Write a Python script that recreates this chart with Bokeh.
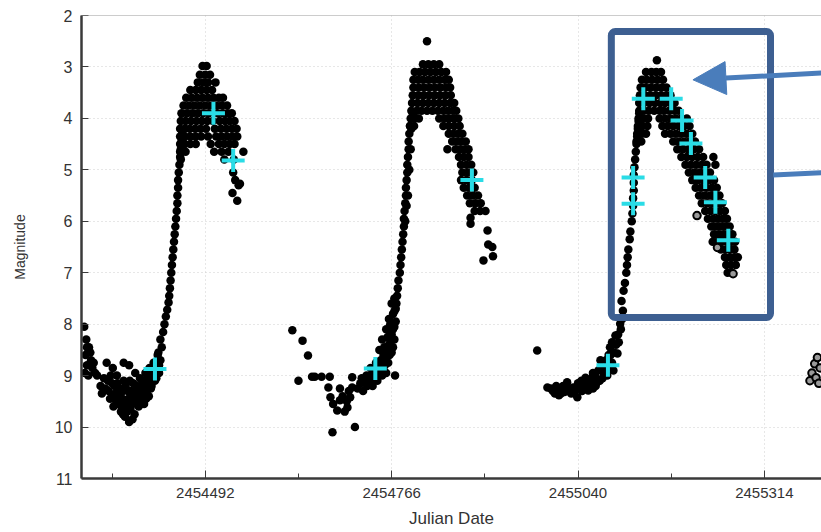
from bokeh.plotting import figure
from bokeh.models import (Range1d, FixedTicker, BasicTickFormatter, BoxAnnotation,
                          Arrow, NormalHead, Span)
from bokeh.embed import file_html
from bokeh.resources import INLINE

# ---------------- data (Julian Date offsets from JD0, magnitude) ----------------
JD0 = 2454000

x_major_ticks = [2454492, 2454766, 2455040, 2455314]
x_minor_ticks = [2454355, 2454629, 2454903, 2455177]
y_ticks = [2, 3, 4, 5, 6, 7, 8, 9, 10, 11]

cycle1_min = [(314, 8.05), (317, 8.30), (321, 8.45), (316, 8.60), (324, 8.70), (318, 8.80),
              (315, 8.95), (326, 8.85), (320, 9.00), (330, 8.95), (318, 8.45), (323, 8.55),
              (333, 9.00), (328, 8.75),
              (338, 9.20), (343, 9.05), (347, 8.75), (350, 9.30), (352, 9.45), (355, 9.15),
              (357, 9.60), (360, 9.35), (362, 9.00), (364, 9.55), (366, 9.25), (368, 9.70),
              (370, 9.45), (372, 9.10), (374, 9.80), (376, 9.55), (378, 9.30), (380, 8.80),
              (380, 9.90), (382, 9.65), (384, 9.40), (386, 9.15), (388, 9.75), (389, 8.95),
              (390, 9.50), (392, 9.30), (394, 9.60), (396, 9.05), (398, 9.40), (400, 9.20),
              (402, 9.55), (404, 8.95), (406, 9.30), (408, 9.10), (410, 8.85), (412, 9.25),
              (414, 9.00), (416, 8.75), (418, 9.10), (420, 8.90), (422, 8.60), (424, 8.80),
              (340, 9.35), (345, 9.25), (349, 9.10), (353, 9.00), (356, 9.40), (359, 9.20),
              (361, 9.50), (363, 9.15), (367, 9.40), (369, 9.60), (371, 9.30), (373, 9.50),
              (375, 9.20), (377, 9.70), (379, 9.45), (381, 9.10), (383, 9.30), (385, 9.55),
              (387, 9.35), (391, 9.20), (393, 9.45), (395, 9.25), (397, 9.55), (399, 9.10),
              (401, 9.35), (403, 9.10), (405, 9.45), (407, 9.20), (409, 9.40), (411, 9.05),
              (413, 9.20), (415, 8.95), (417, 9.05), (385, 9.85), (377, 9.65), (371, 9.75),
              (356, 8.85), (372, 8.75)]

cycle1_rise = [(420, 9.05), (424, 8.95), (426, 8.70), (423, 8.55), (428, 8.45), (426, 8.30),
               (430, 8.15), (432, 8.00), (434, 7.85), (436, 7.72), (438, 7.58), (439, 7.45),
               (440, 7.30), (441, 7.15), (442, 7.00), (443, 6.85), (444, 6.70), (445, 6.55),
               (446, 6.40), (447, 6.25), (448, 6.10), (449, 5.95), (450, 5.80), (451, 5.65),
               (451, 5.50), (452, 5.35), (452, 5.20), (453, 5.05), (454, 4.90), (455, 4.75),
               (456, 4.60), (457, 4.45), (458, 4.30)]

cycle1_peak = [(488, 2.98), (494, 2.98),
               (484, 3.15), (492, 3.15), (499, 3.15),
               (481, 3.3), (489, 3.3), (496, 3.3), (507, 3.3),
               (470, 3.45), (478, 3.45), (486, 3.45), (494, 3.45), (502, 3.45),
               (464, 3.6), (472, 3.6), (480, 3.6), (488, 3.6), (496, 3.6), (504, 3.6), (512, 3.6), (518, 3.6),
               (460, 3.75), (468, 3.75), (476, 3.75), (484, 3.75), (492, 3.75), (500, 3.75), (508, 3.75),
               (516, 3.75), (524, 3.75),
               (457, 3.9), (465, 3.9), (473, 3.9), (481, 3.9), (489, 3.9), (497, 3.9), (510, 3.9),
               (518, 3.9), (525, 3.9), (531, 3.9),
               (456, 4.05), (463, 4.05), (471, 4.05), (479, 4.05), (487, 4.05), (495, 4.05), (503, 4.05),
               (513, 4.05), (521, 4.05), (528, 4.05), (535, 4.05),
               (455, 4.2), (462, 4.2), (469, 4.2), (477, 4.2), (485, 4.2), (493, 4.2), (506, 4.2),
               (515, 4.2), (523, 4.2), (531, 4.2), (538, 4.2),
               (455, 4.35), (462, 4.35), (470, 4.35), (478, 4.35), (486, 4.35), (496, 4.35), (508, 4.35),
               (516, 4.35), (524, 4.35), (532, 4.35), (539, 4.35),
               (455, 4.5), (462, 4.5), (470, 4.5), (478, 4.5), (500, 4.5), (512, 4.5), (520, 4.5),
               (528, 4.5), (535, 4.5),
               (455, 4.65), (463, 4.65), (505, 4.65), (516, 4.65), (526, 4.65), (548, 4.65),
               (456, 4.8), (520, 4.8), (534, 4.8),
               (533, 5.05), (536, 5.20), (541, 5.30), (532, 5.45), (539, 5.60), (543, 5.27)]

cycle2_min = [(620, 8.12), (635, 8.32), (643, 8.61), (629, 9.10),
              (649, 9.02), (653, 9.02), (663, 9.02), (675, 9.02),
              (673, 9.23), (676, 9.42), (680, 9.55), (686, 9.68), (690, 9.48), (701, 9.62),
              (705, 9.42), (708, 9.23), (708, 9.03), (679, 10.10), (712, 10.00), (690, 9.25),
              (697, 9.70), (694, 9.40), (700, 9.50), (703, 9.30)]

cycle2_rise = [(716, 9.25), (720, 9.15), (727, 9.10), (734, 9.00), (741, 8.95), (748, 8.90),
               (724, 9.30), (730, 9.20), (738, 9.20), (745, 9.10), (752, 9.00), (758, 8.95),
               (771, 9.00), (735, 8.85), (743, 8.75), (750, 8.70), (757, 8.65), (763, 8.60),
               (748, 8.50), (755, 8.45), (762, 8.40), (768, 8.45), (752, 8.30), (760, 8.25),
               (766, 8.20), (758, 8.10), (764, 8.00), (770, 8.05), (762, 7.90), (768, 7.80),
               (772, 7.70), (766, 7.60), (770, 7.50),
               (722, 9.05), (729, 9.00), (736, 9.10), (744, 9.00), (751, 8.85), (756, 8.80),
               (761, 8.75), (746, 8.80), (754, 8.60), (760, 8.50), (766, 8.55), (764, 8.35),
               (770, 8.30), (768, 8.10), (772, 7.95), (770, 7.75), (773, 7.60), (756, 8.55),
               (744, 8.95), (739, 9.05),
               (774, 7.45), (775, 7.30), (776, 7.15), (778, 7.00), (779, 6.85), (780, 6.70),
               (781, 6.55), (782, 6.40), (783, 6.25), (784, 6.10), (784, 5.95), (785, 5.80),
               (786, 5.65), (787, 5.50), (787, 5.35), (788, 5.20), (789, 5.05), (789, 4.90),
               (790, 4.75), (791, 4.60), (791, 4.45), (792, 4.30), (793, 4.15), (790, 5.50),
               (792, 5.00), (794, 4.60), (795, 4.20), (797, 3.90), (786, 6.00), (788, 5.70)]

cycle2_peak = [(818, 2.50),
               (812, 2.95), (820, 2.95), (828, 2.95), (836, 2.95),
               (800, 3.1), (807, 3.1), (815, 3.1), (823, 3.1), (831, 3.1), (839, 3.1), (846, 3.1),
               (798, 3.25), (805, 3.25), (812, 3.25), (820, 3.25), (828, 3.25), (836, 3.25), (844, 3.25),
               (850, 3.25),
               (798, 3.4), (806, 3.4), (814, 3.4), (822, 3.4), (830, 3.4), (838, 3.4), (846, 3.4), (852, 3.4),
               (797, 3.55), (805, 3.55), (813, 3.55), (821, 3.55), (829, 3.55), (837, 3.55), (845, 3.55),
               (853, 3.55),
               (796, 3.7), (804, 3.7), (812, 3.7), (820, 3.7), (828, 3.7), (836, 3.7), (844, 3.7),
               (852, 3.7), (858, 3.7),
               (795, 3.85), (803, 3.85), (810, 3.85), (818, 3.85), (826, 3.85), (834, 3.85), (842, 3.85),
               (849, 3.85), (856, 3.85), (861, 3.85),
               (794, 4.0), (800, 4.0), (806, 4.0), (836, 4.0), (844, 4.0), (851, 4.0), (858, 4.0), (864, 4.0),
               (793, 4.15), (799, 4.15), (842, 4.15), (850, 4.15), (858, 4.15), (866, 4.15),
               (850, 4.3), (857, 4.3), (864, 4.3), (870, 4.3),
               (855, 4.45), (862, 4.45), (869, 4.45), (875, 4.45),
               (848, 4.6), (860, 4.6), (867, 4.6), (874, 4.6), (879, 4.6),
               (865, 4.75), (872, 4.75), (879, 4.75),
               (868, 4.9), (876, 4.9), (883, 4.9),
               (870, 5.05), (878, 5.05), (886, 5.05),
               (868, 5.2), (876, 5.2), (884, 5.2),
               (872, 5.35), (880, 5.35), (888, 5.35),
               (877, 5.5), (885, 5.5), (893, 5.5),
               (881, 5.65), (889, 5.65), (897, 5.65),
               (888, 5.8), (896, 5.8), (904, 5.8),
               (882, 5.93), (882, 6.05), (907, 6.18), (914, 6.50), (901, 6.76), (915, 6.68), (908, 6.45)]

cycle3_min = [(980, 8.51),
              (995, 9.23), (1003, 9.30), (1011, 9.29), (1018, 9.20), (1024, 9.13), (1024, 9.30),
              (1030, 9.35), (1033, 9.23), (1039, 9.42), (1040, 9.15), (1046, 9.30), (1051, 9.04),
              (1055, 9.29), (1058, 9.15), (1062, 8.95), (1062, 9.25), (1068, 9.13), (1070, 8.90),
              (1073, 8.70), (1076, 9.05), (1080, 8.85), (1083, 9.00), (1085, 8.60), (1087, 8.45),
              (1090, 8.75), (1092, 8.90), (1095, 8.22), (1098, 8.57), (1102, 7.99), (1106, 7.74),
              (1008, 9.20), (1015, 9.35), (1045, 9.10), (1090, 8.35),
              (1000, 9.25), (1006, 9.35), (1012, 9.38), (1020, 9.32), (1027, 9.25), (1035, 9.32),
              (1042, 9.25), (1048, 9.18), (1053, 9.15), (1060, 9.05), (1065, 9.00), (1066, 9.20),
              (1072, 9.10), (1075, 8.85), (1078, 8.95), (1081, 8.70), (1086, 8.80), (1088, 8.60),
              (1093, 8.55), (1096, 8.40), (1099, 8.20), (1100, 8.35), (1103, 8.10), (1105, 7.90)]

cycle3_rise = [(1104, 7.55), (1107, 7.35), (1109, 7.20), (1111, 7.00), (1112, 6.85), (1113, 6.70),
               (1114, 6.55), (1116, 6.35), (1117, 6.20), (1119, 6.00), (1120, 5.85), (1121, 5.70),
               (1121, 5.55), (1122, 5.40), (1122, 5.25), (1122, 5.10), (1123, 4.95), (1124, 4.80),
               (1125, 4.65), (1126, 4.50), (1127, 4.35), (1128, 4.20), (1129, 4.05), (1130, 3.90)]

cycle3_peak = [(1156, 2.87),
               (1140, 3.1), (1148, 3.1), (1155, 3.1), (1162, 3.1),
               (1134, 3.25), (1141, 3.25), (1149, 3.25), (1157, 3.25), (1165, 3.25),
               (1132, 3.4), (1139, 3.4), (1147, 3.4), (1155, 3.4), (1163, 3.4), (1170, 3.4),
               (1131, 3.55), (1138, 3.55), (1146, 3.55), (1154, 3.55), (1162, 3.55), (1170, 3.55), (1176, 3.55),
               (1130, 3.7), (1137, 3.7), (1145, 3.7), (1153, 3.7), (1161, 3.7), (1168, 3.7), (1176, 3.7),
               (1182, 3.7),
               (1130, 3.85), (1137, 3.85), (1144, 3.85), (1152, 3.85), (1160, 3.85), (1166, 3.85),
               (1174, 3.85), (1182, 3.85), (1188, 3.85),
               (1129, 4.0), (1136, 4.0), (1143, 4.0), (1160, 4.0), (1168, 4.0), (1176, 4.0), (1184, 4.0),
               (1192, 4.0), (1200, 4.0),
               (1128, 4.15), (1135, 4.15), (1142, 4.15), (1164, 4.15), (1172, 4.15), (1180, 4.15),
               (1188, 4.15), (1196, 4.15), (1204, 4.15),
               (1127, 4.3), (1134, 4.3), (1140, 4.3), (1168, 4.3), (1176, 4.3), (1184, 4.3), (1192, 4.3),
               (1200, 4.3), (1208, 4.3),
               (1126, 4.45), (1133, 4.45), (1180, 4.45), (1188, 4.45), (1196, 4.45), (1204, 4.45), (1212, 4.45),
               (1186, 4.6), (1194, 4.6), (1202, 4.6), (1210, 4.6), (1218, 4.6),
               (1192, 4.75), (1200, 4.75), (1208, 4.75), (1216, 4.75), (1224, 4.75), (1239, 4.75),
               (1198, 4.9), (1206, 4.9), (1214, 4.9), (1222, 4.9), (1229, 4.9), (1242, 4.9),
               (1203, 5.05), (1211, 5.05), (1219, 5.05), (1227, 5.05), (1234, 5.05),
               (1208, 5.2), (1216, 5.2), (1224, 5.2), (1232, 5.2), (1240, 5.2),
               (1213, 5.35), (1221, 5.35), (1229, 5.35), (1237, 5.35), (1244, 5.35),
               (1218, 5.5), (1226, 5.5), (1234, 5.5), (1241, 5.5), (1248, 5.5),
               (1222, 5.65), (1230, 5.65), (1238, 5.65), (1245, 5.65), (1252, 5.65),
               (1227, 5.8), (1235, 5.8), (1242, 5.8), (1249, 5.8), (1256, 5.8),
               (1231, 5.95), (1239, 5.95), (1246, 5.95), (1253, 5.95), (1259, 5.95),
               (1236, 6.1), (1243, 6.1), (1250, 6.1), (1257, 6.1), (1263, 6.1),
               (1240, 6.25), (1247, 6.25), (1254, 6.25), (1261, 6.25), (1267, 6.25),
               (1238, 6.4), (1245, 6.4), (1252, 6.4), (1259, 6.4), (1266, 6.4), (1271, 6.4),
               (1250, 6.55), (1257, 6.55), (1264, 6.55), (1270, 6.55),
               (1256, 6.7), (1263, 6.7), (1270, 6.7), (1275, 6.7),
               (1258, 6.85), (1265, 6.85), (1272, 6.85),
               (1260, 7.0), (1266, 7.0)]

hollow_points = [(1215, 5.89), (1245, 6.51), (1268, 7.02),
                 (1381, 9.10), (1384, 8.95), (1388, 8.77), (1392, 8.65), (1390, 9.04),
                 (1396, 8.85), (1394, 9.15)]

cyan_points = [(418, 8.87), (504, 3.90), (533, 4.82), (742, 8.86), (884, 5.20),
               (1084, 8.80), (1121, 5.15), (1121, 5.66), (1136, 3.62), (1177, 3.62),
               (1193, 4.04), (1206, 4.49), (1227, 5.15), (1242, 5.63), (1261, 6.37)]

# ---------------- figure ----------------
p = figure(width=821, height=532, output_backend="svg", toolbar_location=None,
           x_range=Range1d(2454310, 2455398), y_range=Range1d(11, 2),
           min_border_left=81, min_border_right=0, min_border_top=15, min_border_bottom=54)
p.outline_line_color = None
p.background_fill_color = "white"
p.border_fill_color = "white"

GRID = "#cfcfcf"
p.xgrid.grid_line_color = GRID
p.xgrid.grid_line_dash = "1 3"
p.ygrid.grid_line_color = GRID
p.ygrid.grid_line_dash = "1 3"

# x axis
xa = p.xaxis[0]
xa.ticker = FixedTicker(ticks=x_major_ticks, minor_ticks=x_minor_ticks)
xa.formatter = BasicTickFormatter(use_scientific=False)
xa.axis_label = "Julian Date"
xa.axis_line_color = "#3a3a3a"
xa.axis_line_width = 2.5
xa.major_tick_in = 8
xa.major_tick_out = 0
xa.minor_tick_in = 5
xa.minor_tick_out = 0
xa.major_tick_line_color = "#3a3a3a"
xa.minor_tick_line_color = "#3a3a3a"
xa.major_label_text_font = "Liberation Sans"
xa.major_label_text_font_size = "15px"
xa.major_label_text_color = "#333333"
xa.major_label_standoff = 9
xa.axis_label_text_font = "Liberation Sans"
xa.axis_label_text_font_size = "17px"
xa.axis_label_text_font_style = "normal"
xa.axis_label_text_color = "#333333"
xa.axis_label_standoff = 8

# y axis
ya = p.yaxis[0]
ya.ticker = FixedTicker(ticks=y_ticks)
ya.axis_label = "Magnitude"
ya.axis_line_color = "#3a3a3a"
ya.axis_line_width = 2.5
ya.major_tick_in = 7
ya.major_tick_out = 0
ya.minor_tick_line_color = None
ya.major_tick_line_color = "#3a3a3a"
ya.major_label_text_font = "Liberation Sans"
ya.major_label_text_font_size = "16px"
ya.major_label_text_color = "#333333"
ya.major_label_standoff = 9
ya.axis_label_text_font = "Liberation Sans"
ya.axis_label_text_font_size = "14px"
ya.axis_label_text_font_style = "normal"
ya.axis_label_text_color = "#333333"
ya.axis_label_standoff = 24

# top border
p.add_layout(Span(location=2, dimension="width", line_color="#9a9a9a", line_width=1))

# black observations
for seg in (cycle1_min, cycle1_rise, cycle1_peak, cycle2_min, cycle2_rise, cycle2_peak,
            cycle3_min, cycle3_rise, cycle3_peak):
    xs = [JD0 + d for d, _ in seg]
    ys = [m for _, m in seg]
    p.scatter(xs, ys, marker="circle", size=8.5, fill_color="black", line_color=None)

p.scatter([JD0 + d for d, _ in hollow_points], [m for _, m in hollow_points],
          marker="circle", size=7.5, fill_color="#9a9a9a", line_color="black", line_width=2)

# cyan plus markers
p.scatter([JD0 + d for d, _ in cyan_points], [m for _, m in cyan_points],
          marker="cross", size=23, line_color="#2ADCE6", line_width=4)

# annotation box and arrows
p.add_layout(BoxAnnotation(left=2455089, right=2455323, top=2.31, bottom=7.87,
                           fill_color=None, fill_alpha=0, line_color="#3D5F91", line_alpha=1.0,
                           line_width=7, border_radius=4))
arrow_col = "#4A7DBB"
p.add_layout(Arrow(end=NormalHead(size=33, fill_color=arrow_col, line_color=arrow_col),
                   x_start=2455411, y_start=3.11, x_end=2455209, y_end=3.25,
                   line_color=arrow_col, line_width=5))
p.add_layout(Arrow(end=None, x_start=2455327, y_start=5.10, x_end=2455411, y_end=5.05,
                   line_color=arrow_col, line_width=5))

open("out.html", "w").write(file_html(p, INLINE))
